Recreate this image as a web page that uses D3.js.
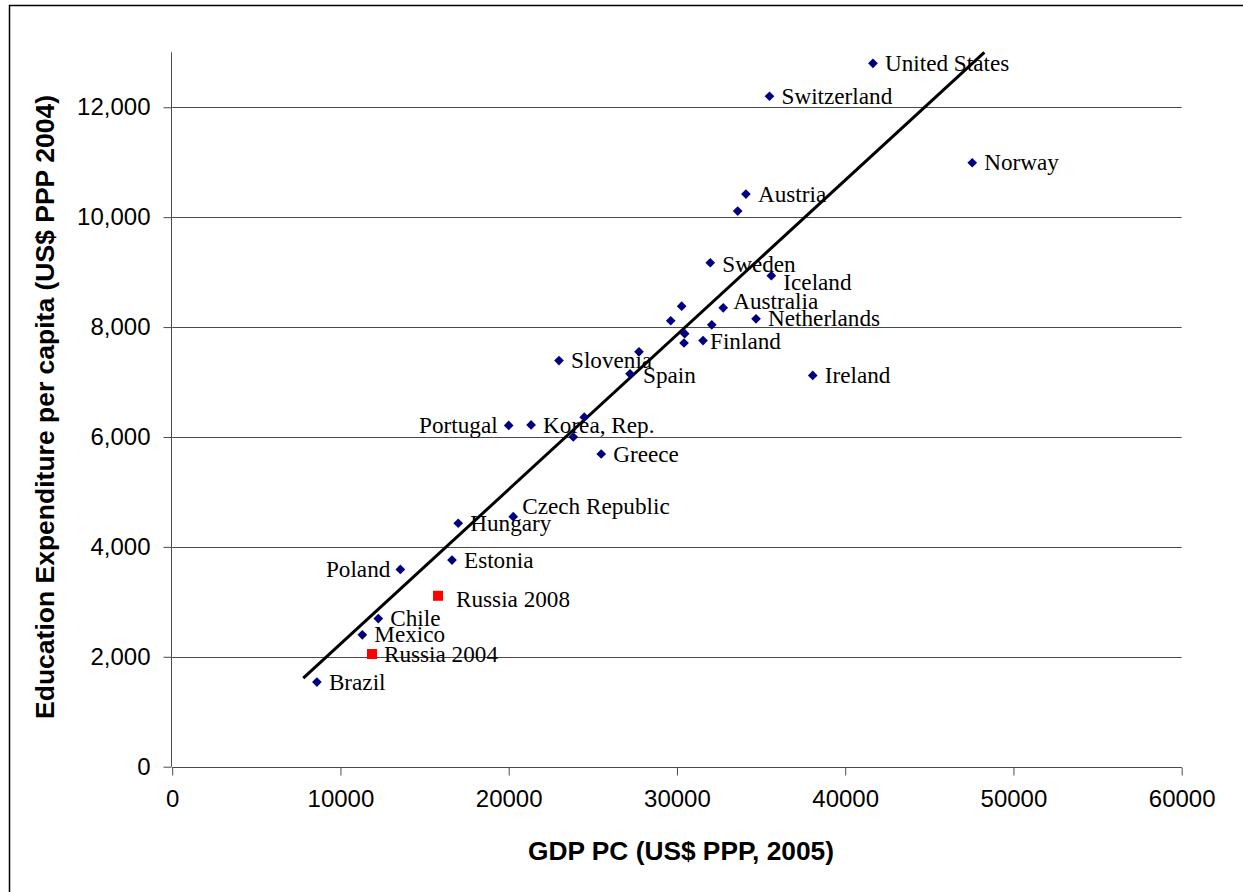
<!DOCTYPE html>
<html>
<head>
<meta charset="utf-8">
<script src="https://cdn.jsdelivr.net/npm/d3@7"></script>
<style>
  html, body { margin: 0; padding: 0; background: #fff; }
  svg { display: block; }
</style>
</head>
<body>
<svg id="chart" width="1243" height="892"></svg>
<script>
// ---- data ----
const countries = ["United States","Switzerland","Norway","Austria","","Sweden","Iceland","Australia","","","","Netherlands","","","Finland","","Slovenia","Spain","Ireland","","Portugal","Korea, Rep.","","Greece","Czech Republic","Hungary","Estonia","Poland","Chile","Mexico","Brazil"];
const gdpPC = [41650,35500,47550,34100,33610,31980,35610,32750,30280,29630,32070,34700,30460,30420,31550,27745,22990,27210,38070,24490,20000,21330,23840,25500,20270,17000,16630,13560,12250,11300,8600];
const eduExp = [12800,12200,10990,10420,10110,9170,8935,8350,8380,8115,8040,8150,7880,7710,7755,7550,7390,7150,7120,6360,6210,6220,6000,5690,4550,4430,3760,3590,2695,2400,1540];

const russiaLabels = ["Russia 2008","Russia 2004"];
const russiaGdp = [15800,11875];
const russiaEdu = [3110,2050];

const trendX = [7790, 48270];
const trendY = [1610, 13000];

const xTicks = [0,10000,20000,30000,40000,50000,60000];
const yTicks = [0,2000,4000,6000,8000,10000,12000];
const xTitle = "GDP PC (US$ PPP, 2005)";
const yTitle = "Education Expenditure per capita (US$ PPP 2004)";

// label placement tweaks (layout only)
const labelNudge = {
  "Portugal": {dx: -11, dy: 0, anchor: "end"},
  "Poland": {dx: -10, dy: 0, anchor: "end"},
  "Iceland": {dx: 12, dy: 7},
  "Czech Republic": {dx: 9, dy: -10},
  "Russia 2008": {dx: 18, dy: 4},
  "Sweden": {dx: 12, dy: 2},
  "Spain": {dx: 13, dy: 2},
  "Finland": {dx: 7, dy: 1},
  "Australia": {dx: 10, dy: -6}
};

// ---- layout ----
const svg = d3.select("#chart");
const m = {left: 172.2, right: 1181.7, top: 52.3, bottom: 766.7};
const x = d3.scaleLinear().domain([0, 60000]).range([m.left, m.right]);
const y = d3.scaleLinear().domain([0, 13000]).range([m.bottom, m.top]);

// frame (top and left edges visible)
svg.append("rect").attr("x", 9.5).attr("y", 5.5).attr("width", 1300).attr("height", 1000)
  .attr("fill", "none").attr("stroke", "#000").attr("stroke-width", 1.5);

// gridlines
svg.append("g").selectAll("line").data(yTicks.filter(d => d > 0)).join("line")
  .attr("x1", m.left).attr("x2", m.right)
  .attr("y1", d => Math.round(y(d)) + 0.5).attr("y2", d => Math.round(y(d)) + 0.5)
  .attr("stroke", "#4a4a4a").attr("stroke-width", 1);

// axes
const gx = svg.append("g").attr("transform", `translate(0,${Math.round(m.bottom)+0.5})`)
  .call(d3.axisBottom(x).tickValues(xTicks).tickFormat(d3.format("d")).tickSize(8).tickPadding(14));
const gy = svg.append("g").attr("transform", `translate(${Math.round(m.left)-0.5},0)`)
  .call(d3.axisLeft(y).tickValues(yTicks).tickFormat(d3.format(",")).tickSize(8).tickPadding(13));
[gx, gy].forEach(g => {
  g.select(".domain").attr("stroke", "#4a4a4a");
  g.selectAll(".tick line").attr("stroke", "#4a4a4a");
  g.selectAll(".tick text").attr("font-family", "Liberation Sans, Arial, sans-serif")
    .attr("font-size", 24).attr("fill", "#000");
});
gy.select(".domain").attr("d", `M0,${y(0)}V${m.top}`);
gx.select(".domain").attr("d", `M${x(0)},0H${m.right}`);

// trend line
svg.append("line")
  .attr("x1", x(trendX[0])).attr("y1", y(trendY[0]))
  .attr("x2", x(trendX[1])).attr("y2", y(trendY[1]))
  .attr("stroke", "#000").attr("stroke-width", 3);

// country diamonds
const pts = countries.map((c, i) => ({name: c, gx: gdpPC[i], ey: eduExp[i]}));
svg.append("g").selectAll("path").data(pts).join("path")
  .attr("transform", d => `translate(${x(d.gx)},${y(d.ey)})`)
  .attr("d", d3.symbol(d3.symbolDiamond2, 60))
  .attr("fill", "#000080");

// Russia squares
const rpts = russiaLabels.map((c, i) => ({name: c, gx: russiaGdp[i], ey: russiaEdu[i]}));
svg.append("g").selectAll("rect").data(rpts).join("rect")
  .attr("x", d => x(d.gx) - 5).attr("y", d => y(d.ey) - 5)
  .attr("width", 10).attr("height", 10).attr("fill", "#ff0000");

// labels
const allLabels = pts.concat(rpts).filter(d => d.name);
svg.append("g").selectAll("text").data(allLabels).join("text")
  .attr("x", d => x(d.gx) + ((labelNudge[d.name] || {}).dx ?? 12))
  .attr("y", d => y(d.ey) + ((labelNudge[d.name] || {}).dy ?? 0))
  .attr("dy", "0.33em")
  .attr("text-anchor", d => (labelNudge[d.name] || {}).anchor || "start")
  .attr("font-family", "Liberation Serif, Times New Roman, serif")
  .attr("font-size", 23.2).attr("fill", "#000")
  .text(d => d.name);

// axis titles
svg.append("text").attr("x", 681).attr("y", 860)
  .attr("text-anchor", "middle")
  .attr("font-family", "Liberation Sans, Arial, sans-serif").attr("font-weight", "bold")
  .attr("font-size", 26.3).text(xTitle);
svg.append("text").attr("transform", "translate(54,407) rotate(-90)")
  .attr("text-anchor", "middle")
  .attr("font-family", "Liberation Sans, Arial, sans-serif").attr("font-weight", "bold")
  .attr("font-size", 26.5).text(yTitle);
</script>
</body>
</html>
